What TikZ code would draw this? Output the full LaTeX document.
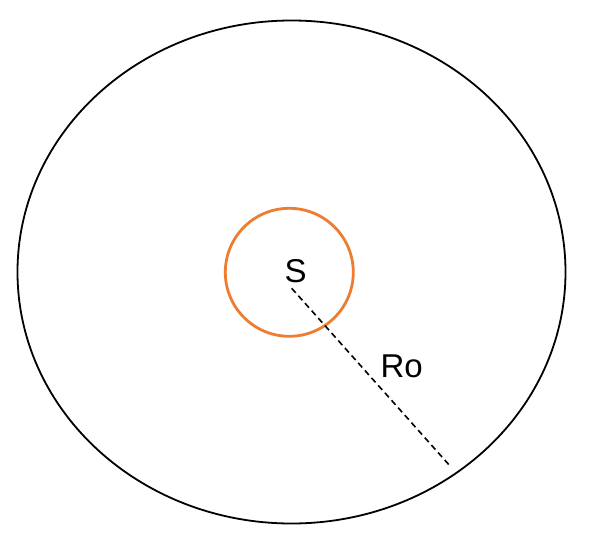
\documentclass[tikz,border=0pt]{standalone}
\usepackage{fontspec}
\setmainfont{Liberation Sans}
\usepackage{tikz}
\usetikzlibrary{shapes.geometric}
\definecolor{srcorange}{RGB}{237,125,49}

\begin{document}
\begin{tikzpicture}[x=1pt, y=1pt]
\pgfmathsetmacro{\cx}{291.5}    % centre of outer boundary
\pgfmathsetmacro{\cy}{270}

% Drawing window
\useasboundingbox (0,0) rectangle (592,542);

% Outer boundary
\node[draw, ellipse, line width=1.8pt, minimum width=548pt, minimum height=503pt,
      inner sep=0pt, outer sep=0pt] (outer) at (\cx,\cy) {};

% Source region
\node[draw=srcorange, circle, line width=2.8pt, minimum size=128pt,
      inner sep=0pt] (src) at (289.3,269.7) {};
\node[font=\fontsize{33}{38}\selectfont] (lblS) at (295.7,271) {S};

% Radius Ro
\coordinate (rstart) at (291.7,253.7);
\coordinate (rend) at (450.7,75.3);
\draw[line width=1.6pt, dash pattern=on 6pt off 4pt] (rstart) -- (rend);
\node[font=\fontsize{33}{38}\selectfont] (lblRo) at (401.7,176) {Ro};

\end{tikzpicture}
\end{document}
